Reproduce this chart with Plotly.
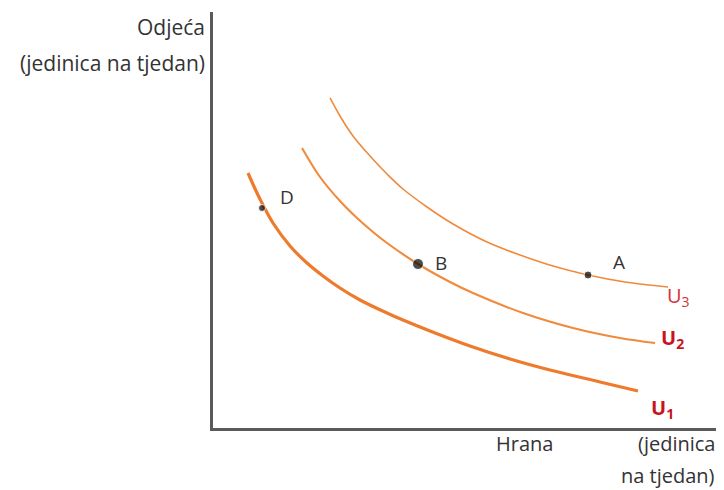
import plotly.graph_objects as go

# Indifference curves (Hrana on x, Odjeća on y, arbitrary units 0-10)
u3_x = [2.290, 2.485, 2.740, 3.072, 3.405, 3.718, 4.188, 4.697, 5.362, 6.008, 6.654, 7.339, 8.063, 8.904]
u3_y = [7.933, 7.500, 7.019, 6.538, 6.106, 5.745, 5.313, 4.904, 4.471, 4.159, 3.894, 3.678, 3.510, 3.389]

u2_x = [1.742, 2.094, 2.485, 2.818, 3.131, 3.405, 4.012, 4.638, 5.088, 6.067, 7.045, 7.965, 8.650]
u2_y = [6.731, 6.034, 5.457, 5.048, 4.712, 4.447, 3.942, 3.510, 3.245, 2.764, 2.404, 2.163, 2.043]

u1_x = [0.685, 0.861, 0.998, 1.174, 1.507, 1.840, 2.153, 2.485, 2.877, 3.405, 3.718, 4.247,
        5.029, 5.812, 6.595, 7.573, 8.317]
u1_y = [6.130, 5.649, 5.313, 4.928, 4.375, 3.966, 3.654, 3.365, 3.077, 2.764, 2.596, 2.332,
        1.971, 1.659, 1.394, 1.106, 0.889]

point_names = ["A", "B", "D"]
point_x = [7.339, 4.012, 0.959]
point_y = [3.678, 3.942, 5.288]
point_sizes = [8, 11, 7]

curve_labels = ["U<sub>3</sub>", "U<sub>2</sub>", "U<sub>1</sub>"]
curve_label_x = [9.10, 9.00, 8.79]
curve_label_y = [3.15, 2.16, 0.46]

y_title = ["Odjeća", "(jedinica na tjedan)"]
x_title = ["Hrana", "(jedinica", "na tjedan)"]

FONT = "Open Sans"
ORANGE = "#F08A3C"
ORANGE_DARK = "#EE7A2C"
RED = "#C8141E"
TXT = "#333333"

fig = go.Figure()
fig.add_trace(go.Scatter(x=u3_x, y=u3_y, mode="lines",
                         line=dict(color=ORANGE, width=1.6, shape="spline", smoothing=1)))
fig.add_trace(go.Scatter(x=u2_x, y=u2_y, mode="lines",
                         line=dict(color=ORANGE, width=2.1, shape="spline", smoothing=1)))
fig.add_trace(go.Scatter(x=u1_x, y=u1_y, mode="lines",
                         line=dict(color=ORANGE_DARK, width=3.2, shape="spline", smoothing=1)))
fig.add_trace(go.Scatter(x=point_x, y=point_y, mode="markers",
                         marker=dict(color="black", size=point_sizes)))

annotations = []
offsets = {"A": (0.61, 0.31), "B": (0.45, 0.03), "D": (0.49, 0.26)}
for n, x, y in zip(point_names, point_x, point_y):
    dx, dy = offsets[n]
    annotations.append(dict(x=x + dx, y=y + dy, xref="x", yref="y", text=n, showarrow=False,
                            font=dict(family=FONT, size=19, color=TXT)))
for i, (t, x, y) in enumerate(zip(curve_labels, curve_label_x, curve_label_y)):
    txt = t if i == 0 else "<b>" + t + "</b>"
    annotations.append(dict(x=x, y=y, xref="x", yref="y", text=txt, showarrow=False,
                            font=dict(family=FONT, size=20, color="#D4303A" if i == 0 else RED)))


def title(text, x, y, xanchor, size):
    return dict(x=x, y=y, xref="paper", yref="paper", text=text, xanchor=xanchor,
                yanchor="middle", showarrow=False, font=dict(family=FONT, size=size, color=TXT))


annotations.append(title(y_title[0], -0.012, 0.964, "right", 21))
annotations.append(title(y_title[1], -0.012, 0.877, "right", 21))
annotations.append(title(x_title[0], 0.61, -0.038, "center", 20))
annotations.append(title(x_title[1], 0.986, -0.038, "right", 20))
annotations.append(title(x_title[2], 0.986, -0.113, "right", 20))

fig.update_layout(
    width=716, height=482,
    margin=dict(l=205, r=0, t=4, b=62),
    paper_bgcolor="white", plot_bgcolor="white",
    showlegend=False,
    annotations=annotations,
    xaxis=dict(range=[0, 10], showline=True, linecolor="#5A5A5A", linewidth=2.5,
               showgrid=False, zeroline=False, showticklabels=False, ticks=""),
    yaxis=dict(range=[0, 10], showline=True, linecolor="#5A5A5A", linewidth=2.5,
               showgrid=False, zeroline=False, showticklabels=False, ticks=""),
)

fig.write_html("out.html")
